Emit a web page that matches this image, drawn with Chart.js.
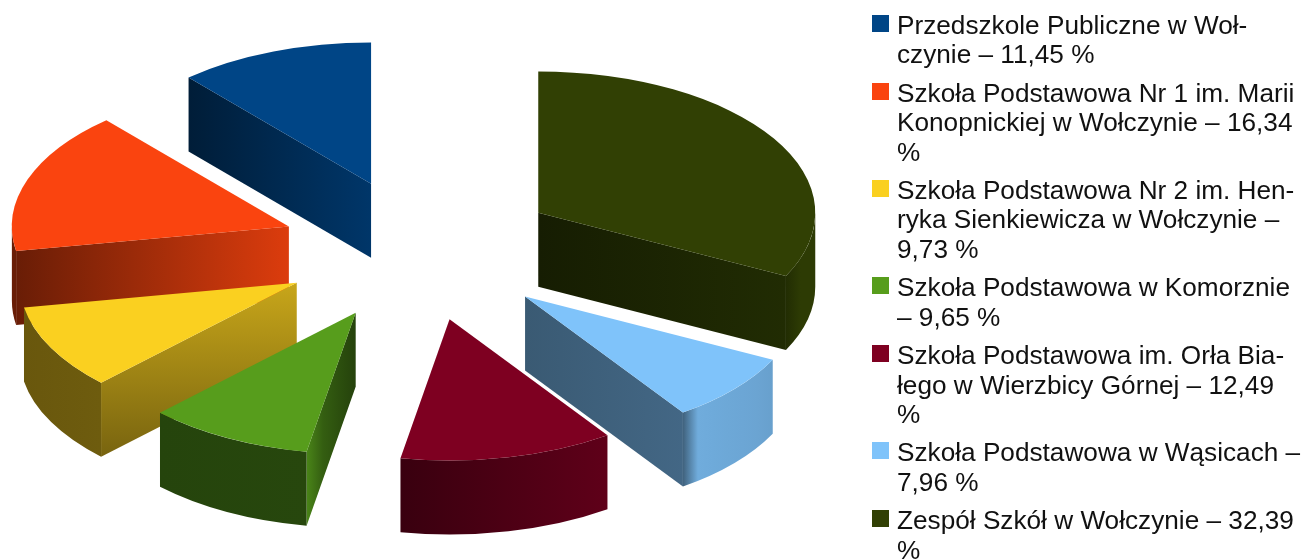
<!DOCTYPE html>
<html lang="pl">
<head>
<meta charset="utf-8">
<title>Wykres</title>
<script src="https://cdn.jsdelivr.net/npm/chart.js@4"></script>
<style>
    html, body { margin: 0; padding: 0; background: #fff; overflow: hidden; }
    #wrap { position: relative; width: 1304px; height: 559px; }
    canvas { position: absolute; left: 0; top: 0; }
    #legend { position: absolute; left: 872px; top: 11px; font-family: "Liberation Sans", sans-serif; font-size: 26.2px; line-height: 29.35px; color: #111; }
    .item { position: relative; padding-left: 25px; margin-bottom: 9.2px; white-space: pre; }
    .item i { position: absolute; left: 0; top: 4px; width: 17px; height: 17px; }
</style>
</head>
<body>
<div id="wrap">
    <canvas id="grafico" width="1304" height="559"></canvas>
    <div id="legend"></div>
</div>
<script>
// dane w kolejnosci legendy
const etykiety = [
    "Przedszkole Publiczne w Woł-\nczynie – 11,45 %",
    "Szkoła Podstawowa Nr 1 im. Marii\nKonopnickiej w Wołczynie – 16,34\n%",
    "Szkoła Podstawowa Nr 2 im. Hen-\nryka Sienkiewicza w Wołczynie –\n9,73 %",
    "Szkoła Podstawowa w Komorznie\n– 9,65 %",
    "Szkoła Podstawowa im. Orła Bia-\nłego w Wierzbicy Górnej – 12,49\n%",
    "Szkoła Podstawowa w Wąsicach –\n7,96 %",
    "Zespół Szkół w Wołczynie – 32,39\n%"
];
const wartosci = [11.45, 16.34, 9.73, 9.65, 12.49, 7.96, 32.39];
const kolory = ["#004586", "#fa440f", "#fad020", "#579d1c", "#7e0021", "#7fc3fa", "#314004"];

// jasnosc scian bocznych: kolejne punkty gradientu
const scianaBok = [[0.42, 0.78], [0.42, 0.88], [0.8, 0.48], [0.85, 0.6, 0.5, 0.42], [0.45, 0.75], [0.46, 0.53], [0.45, 0.68]];
const scianaLuk = [[0.5, 0.5], [0.42, 0.42], [0.42, 0.44], [0.43, 0.45], [0.45, 0.75], [0.5, 0.88, 0.87, 0.86, 0.85, 0.84, 0.82], [0.7, 0.92, 0.92]];

const SPLASZCZENIE = 0.51;
const WYSUNIECIE = 139;
const GLEBOKOSC = 74;

function przyciemnij(hex, f) {
    let n = parseInt(hex.slice(1), 16);
    let r = Math.round(((n >> 16) & 255) * f);
    let g = Math.round(((n >> 8) & 255) * f);
    let b = Math.round((n & 255) * f);
    return `rgb(${r},${g},${b})`;
}

function gradient(ctx, x0, y0, x1, y1, kolor, f) {
    let g = ctx.createLinearGradient(x0, y0, x1, y1);
    f.forEach((v, i) => g.addColorStop(i / (f.length - 1), przyciemnij(kolor, v)));
    return g;
}

// sciana od srodka wycinka do krawedzi
function rysujBok(ctx, ax, ay, kat, R, kolor, f, pionowo) {
    let ex = ax + Math.cos(kat) * R;
    let ey = ay + Math.sin(kat) * R * SPLASZCZENIE;
    ctx.beginPath();
    ctx.moveTo(ax, ay);
    ctx.lineTo(ex, ey);
    ctx.lineTo(ex, ey + GLEBOKOSC);
    ctx.lineTo(ax, ay + GLEBOKOSC);
    ctx.closePath();
    if (pionowo) {
        ctx.fillStyle = gradient(ctx, 0, ay, 0, ey + GLEBOKOSC, kolor, f);
    } else {
        ctx.fillStyle = gradient(ctx, Math.min(ax, ex), 0, Math.max(ax, ex), 0, kolor, f);
    }
    ctx.fill();
}

// zewnetrzna sciana lukowa, tylko czesc zwrocona do widza
function rysujLuk(ctx, ax, ay, a0, a1, R, kolor, f) {
    let od = Math.max(a0, 0);
    let doK = Math.min(a1, Math.PI);
    if (od >= doK) return;
    let x0 = ax + Math.cos(od) * R;
    let x1 = ax + Math.cos(doK) * R;
    ctx.beginPath();
    ctx.ellipse(ax, ay, R, R * SPLASZCZENIE, 0, od, doK);
    ctx.ellipse(ax, ay + GLEBOKOSC, R, R * SPLASZCZENIE, 0, doK, od, true);
    ctx.closePath();
    ctx.fillStyle = gradient(ctx, Math.min(x0, x1), 0, Math.max(x0, x1), 0, kolor, f);
    ctx.fill();
}

const tortPlugin = {
    id: "tort3d",
    beforeDatasetsDraw(chart) {
        let ctx = chart.ctx;
        let arcs = chart.getDatasetMeta(0).data;
        let lista = arcs.map((arc, i) => {
            let srodek = (arc.startAngle + arc.endAngle) / 2;
            return {
                arc,
                idx: arcs.length - 1 - i,
                ax: arc.x + Math.cos(srodek) * WYSUNIECIE,
                ay: arc.y + Math.sin(srodek) * WYSUNIECIE * SPLASZCZENIE
            };
        });
        lista.sort((a, b) => a.ay - b.ay);

        lista.forEach(w => {
            let { arc, idx, ax, ay } = w;
            let R = arc.outerRadius;
            let kolor = kolory[idx];
            let pionowo = idx === 2;
            if (Math.cos(arc.startAngle) < 0) rysujBok(ctx, ax, ay, arc.startAngle, R, kolor, scianaBok[idx], pionowo);
            if (Math.cos(arc.endAngle) > 0) rysujBok(ctx, ax, ay, arc.endAngle, R, kolor, scianaBok[idx], pionowo);
            rysujLuk(ctx, ax, ay, arc.startAngle, arc.endAngle, R, kolor, scianaLuk[idx]);

            ctx.save();
            ctx.translate(ax, ay);
            ctx.scale(1, SPLASZCZENIE);
            ctx.translate(-arc.x, -arc.y);
            arc.draw(ctx);
            ctx.restore();
        });
        return false;
    }
};

function cargarLegenda() {
    let legend = document.getElementById("legend");
    etykiety.forEach((tekst, i) => {
        let item = document.createElement("div");
        item.className = "item";
        item.textContent = tekst;
        let znak = document.createElement("i");
        znak.style.background = kolory[i];
        item.appendChild(znak);
        legend.appendChild(item);
    });
}

// Chart.js idzie zgodnie z zegarem, legenda przeciwnie
new Chart(document.getElementById("grafico"), {
    type: "pie",
    data: {
        labels: [...etykiety].reverse(),
        datasets: [{
            data: [...wartosci].reverse(),
            backgroundColor: [...kolory].reverse(),
            borderWidth: 0,
            radius: 277
        }]
    },
    options: {
        responsive: false,
        animation: false,
        layout: { padding: { right: 464, bottom: 59 } },
        plugins: {
            legend: { display: false },
            tooltip: { enabled: false }
        }
    },
    plugins: [tortPlugin]
});

cargarLegenda();
</script>
</body>
</html>
